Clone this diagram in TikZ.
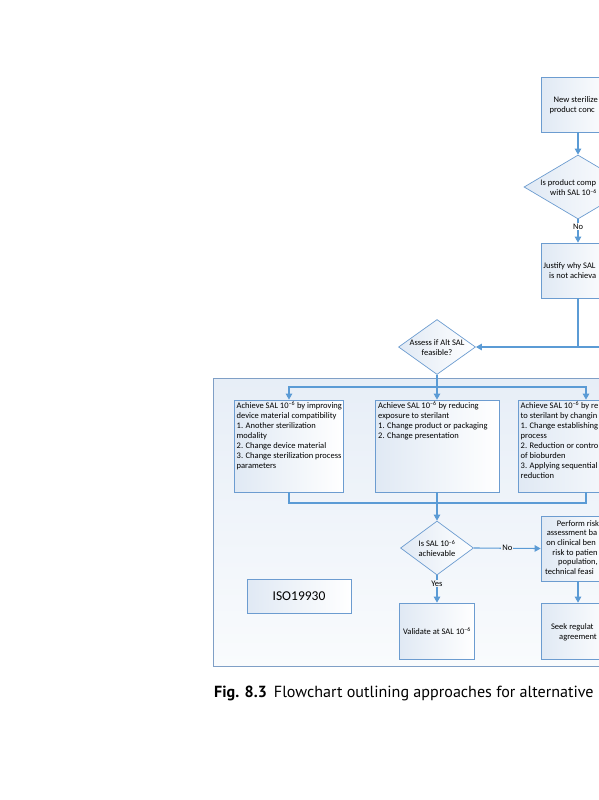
\documentclass[tikz,border=0pt]{standalone}
\usepackage{fontspec}
\setmainfont{Carlito}
\newfontfamily\capfont{PT Sans}
\usetikzlibrary{arrows.meta,shapes.geometric,calc}
\definecolor{lineblue}{HTML}{5B9BD5}
\definecolor{boxedge}{HTML}{6C9CD0}
\definecolor{frameedge}{HTML}{7F9FC6}
\definecolor{frametop}{HTML}{E7EEF7}
\definecolor{framebot}{HTML}{F9FBFD}
\definecolor{boxfill}{HTML}{E0E9F4}
\definecolor{lblfill}{HTML}{F1F5FA}
\tikzset{
  box/.style={draw=boxedge, line width=0.7pt, left color=boxfill, right color=white, inner sep=0pt},
  dia/.style={diamond, draw=boxedge, line width=0.7pt, left color=boxfill, right color=white, inner sep=0pt},
  framebox/.style={draw=frameedge, line width=0.6pt, top color=frametop, bottom color=framebot, inner sep=0pt},
  txt/.style={font=\fontsize{8.5}{10}\selectfont, inner sep=0pt, align=left},
  ctxt/.style={font=\fontsize{8.5}{10}\selectfont, inner sep=0pt, align=center},
  conn/.style={draw=lineblue, line width=1.1pt},
  arr/.style={conn, -{Triangle[length=6pt,width=6.5pt]}},
  lbl/.style={font=\fontsize{8.5}{9}\selectfont, inner sep=1pt, fill=white},
  lbltwo/.style={font=\fontsize{8.5}{9}\selectfont, inner sep=1pt, fill=lblfill},
}
\begin{document}
\begin{tikzpicture}[x=1pt,y=-1pt]
\useasboundingbox (0,0) rectangle (599,800);
\clip (0,0) rectangle (599,800);

% outer frame
\node[framebox, anchor=north west, minimum width=420pt, minimum height=288pt] (fr) at (213,378) {};

% top box
\node[box, minimum width=74pt, minimum height=55pt] (n1) at (578,104.5) {};
\node[ctxt] (n1t) at (578,105) {New sterilize\phantom{d}\\product conc\phantom{ept}};

% diamond 1
\node[dia, minimum width=108pt, minimum height=64pt] (d1) at (578,187) {};
\node[ctxt] (d1t) at (578,188) {Is product comp\phantom{atible}\\with SAL 10\textsuperscript{–6}\phantom{nn}};

% justify box
\node[box, minimum width=74pt, minimum height=55pt] (j) at (578,270.5) {};
\node[ctxt] (jt) at (578,270) {Justify why SAL\phantom{ 10\textsuperscript{–6}}\\is not achieva\phantom{ble}};

% diamond 2
\node[dia, minimum width=77pt, minimum height=55pt] (d2) at (437,347) {};
\node[ctxt] (d2t) at (437,347.5) {Assess if Alt SAL\\feasible?};
\coordinate (offr) at (620,347);

% three approach boxes
\node[box, minimum width=109pt, minimum height=92pt] (a) at (289,446) {};
\node[box, minimum width=124pt, minimum height=92pt] (b) at (437,446) {};
\node[box, minimum width=136pt, minimum height=92pt] (c) at (586,446) {};
\node[txt, anchor=north west] (at) at (236.5,401.5) {Achieve SAL 10\textsuperscript{–6} by improving\\device material compatibility\\1. Another sterilization\\modality\\2. Change device material\\3. Change sterilization process\\parameters};
\node[txt, anchor=north west] (bt) at (378,401.5) {Achieve SAL 10\textsuperscript{–6} by reducing\\exposure to sterilant\\1. Change product or packaging\\2. Change presentation};
\node[txt, anchor=north west] (ct) at (520.5,401.5) {Achieve SAL 10\textsuperscript{–6} by re\\to sterilant by changin\\1. Change establishing\\process\\2. Reduction or contro\\of bioburden\\3. Applying sequential\\reduction};
\coordinate (sp) at (437,387);
\coordinate (mg) at (437,503);

% diamond 3
\node[dia, minimum width=73pt, minimum height=54pt] (d3) at (437,548) {};
\node[ctxt] (d3t) at (437,548.5) {Is SAL 10\textsuperscript{–6}\\achievable};

% risk box
\node[box, minimum width=74pt, minimum height=65pt] (dd) at (578,548.5) {};
\node[ctxt, font=\fontsize{8.5}{9.6}\selectfont] (ddt) at (578,548) {Perform risk\\assessment ba\phantom{sed}\\on clinical ben\phantom{efit,}\\risk to patien\phantom{ts}\\population,\\technical feasi\phantom{bility}};

% validate box
\node[box, minimum width=75pt, minimum height=56pt] (e) at (437,631) {};
\node[ctxt] (et) at (437,631) {Validate at SAL 10\textsuperscript{–6}};

% regulatory box
\node[box, minimum width=74pt, minimum height=56pt] (f) at (578,631) {};
\node[ctxt] (ft) at (578,632) {Seek regulat\phantom{ory}\\agreement};

% ISO box
\node[box, minimum width=104pt, minimum height=34pt, font=\fontsize{13.5}{15}\selectfont] (iso) at (299,596) {ISO19930};

% connectors
\draw[arr] (n1.south) -- (d1.north);
\draw[arr] (d1.south) -- node[lbl, pos=0.3] (no1) {No} (j.north);
\draw[arr] (j.south) |- (d2.east);
\draw[conn] (j.south |- d2.east) -- (offr);
\draw[conn] (d2.south) -- (sp);
\draw[arr] (sp) -- (b.north);
\draw[arr] (sp) -| (a.north);
\draw[arr] (sp) -| (c.north);
\draw[conn] (a.south) |- (mg);
\draw[conn] (c.south) |- (mg);
\draw[conn] (b.south) -- (mg);
\draw[arr] (mg) -- (d3.north);
\draw[arr] (d3.east) -- node[lbltwo] (no2) {No} (dd.west);
\draw[arr] (d3.south) -- node[lbltwo, pos=0.3] (yes) {Yes} (e.north);
\draw[arr] (dd.south) -- (f.north);

% caption
\node[anchor=base west, inner sep=0pt, font=\capfont\fontsize{16.1}{19}\selectfont] (cap) at (214,697) {\textbf{Fig. 8.3}\hspace{7pt}Flowchart outlining approaches for alternative};
\end{tikzpicture}
\end{document}
